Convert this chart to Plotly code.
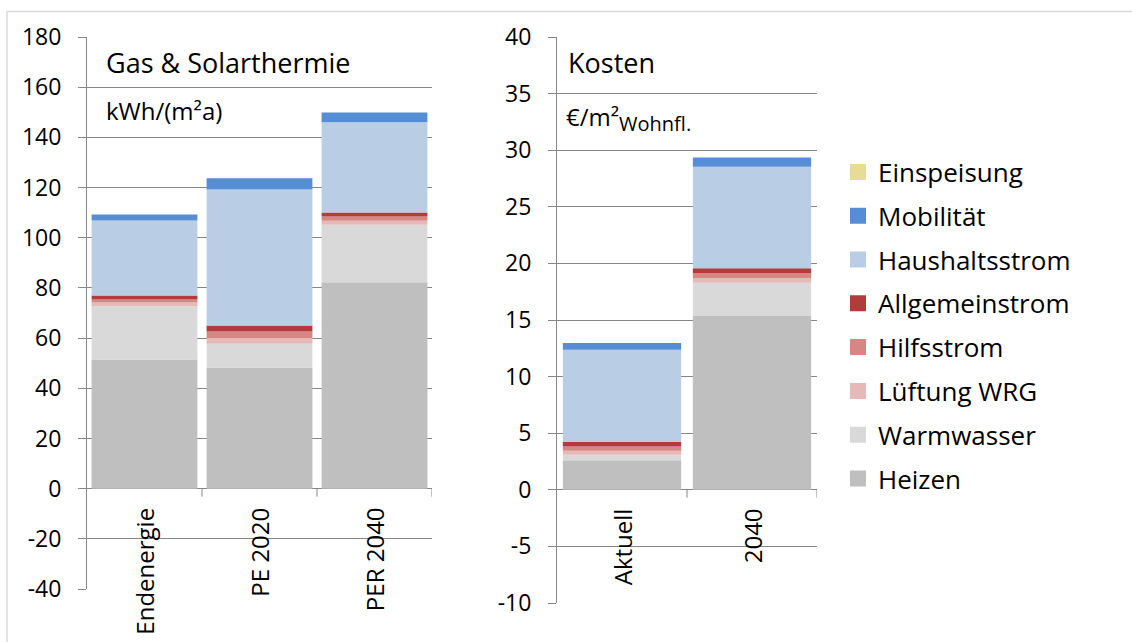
import plotly.graph_objects as go

W, H = 1132, 642

# ---------------- data ----------------
series = ["Heizen", "Warmwasser", "Lüftung WRG", "Hilfsstrom",
          "Allgemeinstrom", "Haushaltsstrom", "Mobilität", "Einspeisung"]
colors = {
    "Einspeisung": "#E6DC96",
    "Mobilität": "#558ED5",
    "Haushaltsstrom": "#B9CDE5",
    "Allgemeinstrom": "#B03C3B",
    "Hilfsstrom": "#D68784",
    "Lüftung WRG": "#E6B9B8",
    "Warmwasser": "#D9D9D9",
    "Heizen": "#BFBFBF",
}

cats_energy = ["Endenergie", "PE 2020", "PER 2040"]
energy_heizen = [51.5, 48.3, 82.3]
energy_warmwasser = [21.2, 9.4, 22.9]
energy_lueftung = [1.5, 2.3, 1.6]
energy_hilfsstrom = [1.2, 2.6, 1.7]
energy_allgemein = [1.6, 2.4, 1.6]
energy_haushalt = [29.9, 54.2, 35.9]
energy_mobil = [2.4, 4.5, 3.9]
energy_einspeisung = [0, 0, 0]

cats_cost = ["Aktuell", "2040"]
cost_heizen = [2.6, 15.36]
cost_warmwasser = [0.5, 2.94]
cost_lueftung = [0.35, 0.41]
cost_hilfsstrom = [0.38, 0.41]
cost_allgemein = [0.39, 0.45]
cost_haushalt = [8.15, 8.97]
cost_mobil = [0.6, 0.82]
cost_einspeisung = [0, 0]

energy_vals = [energy_heizen, energy_warmwasser, energy_lueftung, energy_hilfsstrom,
               energy_allgemein, energy_haushalt, energy_mobil, energy_einspeisung]
cost_vals = [cost_heizen, cost_warmwasser, cost_lueftung, cost_hilfsstrom,
             cost_allgemein, cost_haushalt, cost_mobil, cost_einspeisung]

energy_ticks = list(range(-40, 181, 20))
cost_ticks = list(range(-10, 41, 5))

FONT = "Open Sans"
GRID = "#868686"

fig = go.Figure()

for name, v in zip(series, energy_vals):
    fig.add_trace(go.Bar(x=cats_energy, y=v, name=name, marker_color=colors[name],
                         marker_line_width=0, width=0.92, showlegend=False,
                         xaxis="x", yaxis="y"))
for name, v in zip(series, cost_vals):
    fig.add_trace(go.Bar(x=cats_cost, y=v, name=name, marker_color=colors[name],
                         marker_line_width=0, width=0.91, showlegend=False,
                         xaxis="x2", yaxis="y2"))

# legend entries (top to bottom)
for i, name in enumerate(reversed(series)):
    fig.add_trace(go.Scatter(x=[None], y=[None], mode="markers", name=name,
                             marker=dict(symbol="square", size=18, color=colors[name]),
                             legendgroup="g%d" % i, xaxis="x2", yaxis="y2"))


def px(x):
    return x / W


def py(y):
    return 1 - y / H


yaxis_common = dict(showgrid=True, gridcolor=GRID, gridwidth=1, zeroline=True,
                    zerolinecolor=GRID, zerolinewidth=1, showline=True, linecolor=GRID,
                    linewidth=1, ticks="outside", ticklen=8, tickcolor=GRID,
                    tickfont=dict(family=FONT, size=23, color="#000"),
                    ticklabelstandoff=12, automargin=False)

fig.update_layout(
    width=W, height=H,
    margin=dict(l=0, r=0, t=0, b=0, autoexpand=False),
    paper_bgcolor="white", plot_bgcolor="white",
    barmode="relative",
    font=dict(family=FONT, color="#000"),
    xaxis=dict(domain=[px(87), px(432)], range=[-0.5, len(cats_energy) - 0.5],
               showticklabels=False, showgrid=False, showline=False, zeroline=False,
               anchor="y", automargin=False),
    yaxis=dict(domain=[py(589), py(37)], range=[-40, 180], tickvals=energy_ticks,
               ticktext=[str(v) for v in energy_ticks], anchor="x", **yaxis_common),
    xaxis2=dict(domain=[px(557), px(817)], range=[-0.5, len(cats_cost) - 0.5],
                showticklabels=False, showgrid=False, showline=False, zeroline=False,
                anchor="y2", automargin=False),
    yaxis2=dict(domain=[py(603), py(37)], range=[-10, 40], tickvals=cost_ticks,
                ticktext=[str(v) for v in cost_ticks], anchor="x2", **yaxis_common),
    legend=dict(x=px(838), y=py(148.5), xanchor="left", yanchor="top",
                traceorder="grouped", tracegroupgap=7,
                font=dict(family=FONT, size=26, color="#000"),
                bgcolor="rgba(0,0,0,0)"),
    showlegend=True,
)

annotations = []
# category labels
for i, c in enumerate(cats_energy):
    annotations.append(dict(x=i, y=0, xref="x", yref="y", text=c, textangle=-90,
                            showarrow=False, xanchor="center", yanchor="top", yshift=-17,
                            font=dict(family=FONT, size=24, color="#000")))
for i, c in enumerate(cats_cost):
    annotations.append(dict(x=i, y=0, xref="x2", yref="y2", text=c, textangle=-90,
                            showarrow=False, xanchor="center", yanchor="top", yshift=-17,
                            font=dict(family=FONT, size=24, color="#000")))
# titles inside the plots
annotations += [
    dict(x=px(104), y=py(62), xref="paper", yref="paper", text="Gas & Solarthermie",
         showarrow=False, xanchor="left", yanchor="middle",
         font=dict(family=FONT, size=27, color="#000")),
    dict(x=px(104), y=py(110), xref="paper", yref="paper", text="kWh/(m²a)",
         showarrow=False, xanchor="left", yanchor="middle",
         font=dict(family=FONT, size=24, color="#000")),
    dict(x=px(566), y=py(62), xref="paper", yref="paper", text="Kosten",
         showarrow=False, xanchor="left", yanchor="middle",
         font=dict(family=FONT, size=27, color="#000")),
    dict(x=px(564), y=py(118), xref="paper", yref="paper",
         text="€/m²<sub><span style='font-size:20px'>Wohnfl.</span></sub>",
         showarrow=False, xanchor="left", yanchor="middle",
         font=dict(family=FONT, size=24, color="#000")),
]
fig.update_layout(annotations=annotations)

shapes = []
# category boundary tick marks on the zero line
for i in range(len(cats_energy)):
    shapes.append(dict(type="line", xref="x", yref="y", x0=i + 0.5, x1=i + 0.5,
                       y0=0, y1=-3.2, line=dict(color=GRID, width=1)))
for i in range(len(cats_cost)):
    shapes.append(dict(type="line", xref="x2", yref="y2", x0=i + 0.5, x1=i + 0.5,
                       y0=0, y1=-0.7, line=dict(color=GRID, width=1)))
# outer chart frame
shapes.append(dict(type="rect", xref="paper", yref="paper", x0=px(7), x1=px(1140),
                   y0=py(650), y1=py(11.5), line=dict(color="#D9D9D9", width=1.5),
                   layer="below"))
fig.update_layout(shapes=shapes)

fig.write_html("out.html",
               config={"displayModeBar": False},
               post_script="document.body.style.margin='0';document.body.style.overflow='hidden';")
